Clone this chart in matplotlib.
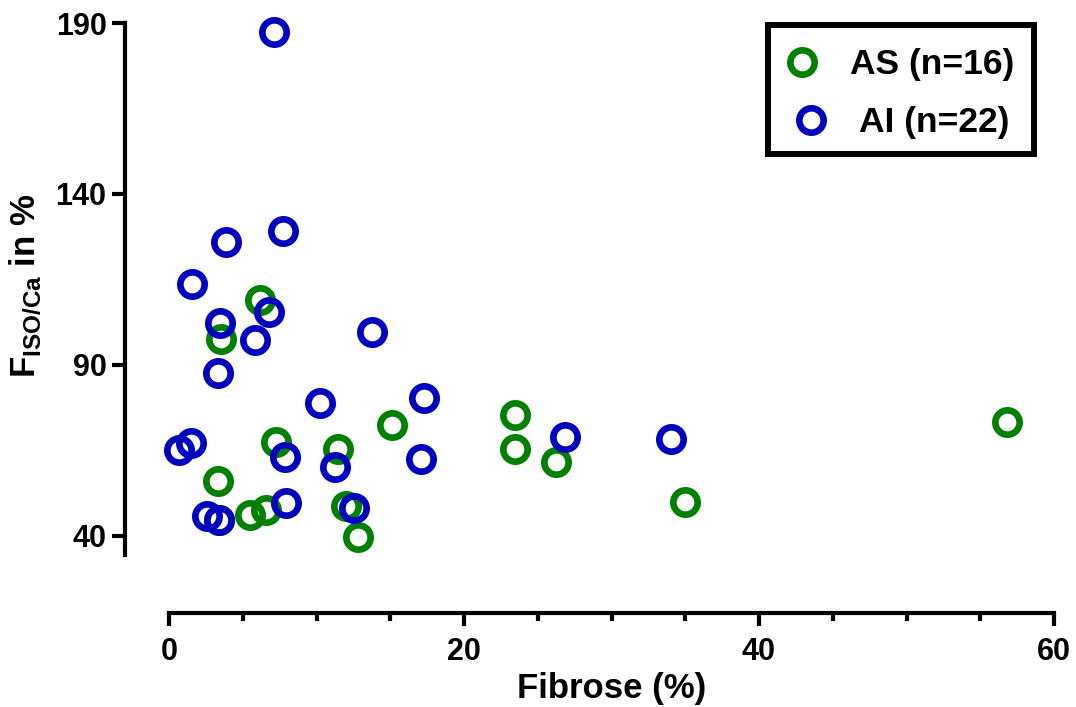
import matplotlib
matplotlib.use("Agg")
import matplotlib.pyplot as plt
from matplotlib.patches import Rectangle

# Aortic stenosis group: fibrosis (%) vs F_ISO/Ca (%)
as_fibrose = [6.15, 3.55, 7.23, 11.48, 15.15, 3.32, 5.47, 6.60, 12.03, 12.84,
              23.44, 23.44, 26.26, 34.96, 56.81, 3.40]
as_fiso = [109.0, 97.5, 67.4, 65.3, 72.3, 56.1, 46.1, 47.6, 48.8, 39.8,
           75.4, 65.4, 61.7, 50.0, 73.4, 44.6]

# Aortic insufficiency group
ai_fibrose = [7.10, 3.89, 7.73, 1.59, 6.78, 3.48, 5.81, 3.35, 13.74, 10.24,
              17.31, 0.68, 1.52, 7.84, 11.25, 17.11, 2.58, 3.39, 7.93, 12.54,
              26.83, 34.01]
ai_fiso = [187.5, 125.9, 129.3, 113.6, 105.4, 102.2, 97.2, 87.7, 99.6, 78.8,
           80.3, 65.1, 67.1, 63.0, 60.0, 62.4, 45.9, 44.5, 49.6, 48.1,
           68.9, 68.4]

labels = ["AS (n=16)", "AI (n=22)"]
colors = ["#008000", "#0000BF"]

x_ticks = [0, 20, 40, 60]
y_ticks = [40, 90, 140, 190]

plt.rcParams["font.family"] = ["Liberation Sans", "DejaVu Sans"]
plt.rcParams["font.weight"] = "bold"
plt.rcParams["mathtext.fontset"] = "custom"
plt.rcParams["mathtext.rm"] = "Liberation Sans"
plt.rcParams["mathtext.bf"] = "Liberation Sans:bold"

W, H = 1076, 707
fig = plt.figure(figsize=(W / 100, H / 100), dpi=100)

# axes box in pixels
left_px, right_px = 154.25, 1068.75
top_px, bottom_px = 16.2, 555.0
ax = fig.add_axes([left_px / W, 1 - bottom_px / H,
                   (right_px - left_px) / W, (bottom_px - top_px) / H])

mk = dict(linestyle="none", marker="o", markersize=17.5,
          markerfacecolor="none", markeredgewidth=4.8, clip_on=False)
h_as, = ax.plot(as_fibrose, as_fiso, color=colors[0], label=labels[0], **mk)
h_ai, = ax.plot(ai_fibrose, ai_fiso, color=colors[1], label=labels[1], **mk)

ax.set_xlim(-1, 61)
ax.set_ylim(34.4, 192)

for s in ("top", "right"):
    ax.spines[s].set_visible(False)
ax.spines["left"].set_position(("outward", 29 * 0.72))
ax.spines["bottom"].set_position(("outward", 58 * 0.72))
ax.spines["left"].set_bounds(34.4, 190)
ax.spines["bottom"].set_bounds(0, 60)
for s in ("left", "bottom"):
    ax.spines[s].set_linewidth(3.0)
    ax.spines[s].set_capstyle("projecting")

ax.set_xticks(x_ticks)
ax.set_yticks(y_ticks)
ax.set_xticks(range(0, 61, 5), minor=True)
ax.tick_params(axis="both", which="major", width=3.0, length=9.5,
               labelsize=22, direction="out")
ax.tick_params(axis="x", which="minor", width=3.0, length=5.5)
ax.tick_params(axis="x", which="major", pad=8)
ax.tick_params(axis="y", which="major", pad=4)
for lab in ax.get_xticklabels() + ax.get_yticklabels():
    lab.set_fontweight("bold")

ax.set_xlabel("Fibrose (%)", fontsize=25, fontweight="bold")
ax.xaxis.set_label_coords(0.5, -0.217)
ax.set_ylabel(r"$\mathbf{F}_{\mathrm{ISO/Ca}}$ in %", fontsize=25,
              fontweight="bold")
ax.yaxis.set_label_coords(-0.122, 0.5)

# legend: one centred row per group inside a heavy black box
leg_kw = dict(loc="upper left", bbox_transform=fig.transFigure,
              borderaxespad=0, prop={"weight": "bold", "size": 25.5},
              frameon=False, borderpad=0.55, handlelength=1.0,
              handletextpad=0.86, numpoints=1)
leg1 = ax.legend([h_as], [labels[0]], bbox_to_anchor=(765 / W, 1 - 29 / H),
                 **leg_kw)
ax.add_artist(leg1)
ax.legend([h_ai], [labels[1]], bbox_to_anchor=(774 / W, 1 - 87 / H),
          **leg_kw)
fig.add_artist(Rectangle((768 / W, 1 - 154 / H), 266 / W, 129 / H,
                         transform=fig.transFigure, fill=False,
                         edgecolor="black", linewidth=4.3))

fig.savefig("out.png", dpi=100)
